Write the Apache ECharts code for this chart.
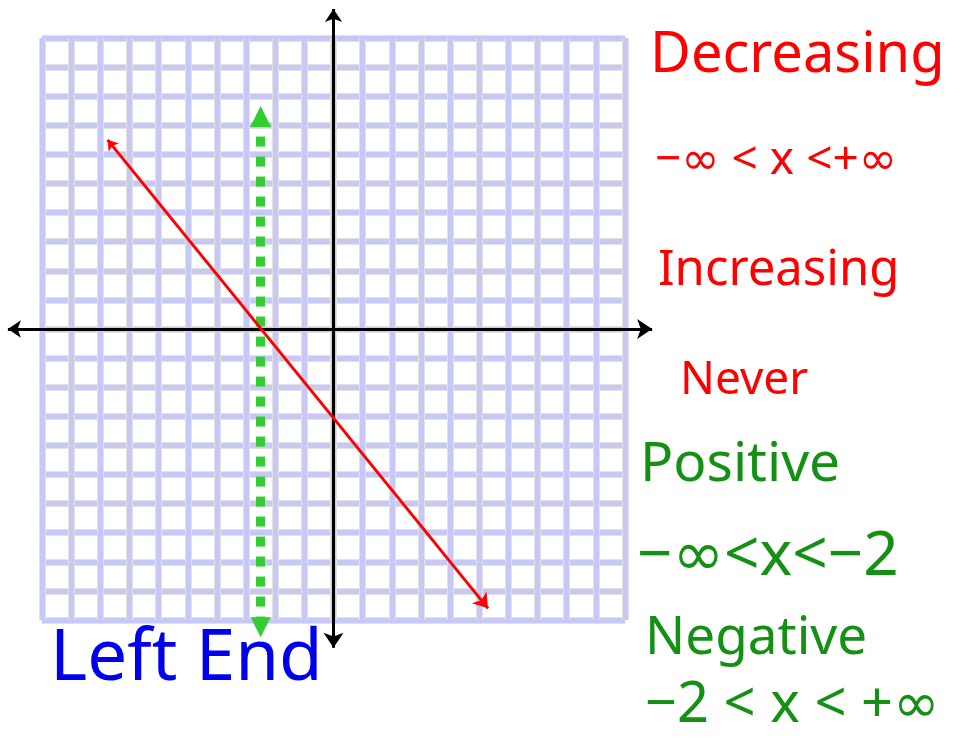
<!DOCTYPE html>
<html>
<head>
<meta charset="utf-8">
<script src="https://cdn.jsdelivr.net/npm/echarts@6/dist/echarts.min.js"></script>
<style>
  html,body{margin:0;padding:0;background:#fff;}
  #chart{width:954px;height:742px;}
</style>
</head>
<body>
<div id="chart"></div>
<script>
// grid range in squares
var gridMin = -10
var gridMax = 10

// lines drawn on the grid, [x, y] pairs
var xAxisLine = [[-11.17, 0], [10.93, 0]]
var yAxisLine = [[0, 11.0], [0, -10.95]]
var redLine = [[-7.75, 6.5], [5.3, -9.6]]
var greenLine = [[-2.5, 7.3], [-2.5, -10.25]]

// handwritten notes
var redNotes = ['Decreasing', '−∞ < x <+∞', 'Increasing', 'Never']
var greenNotes = ['Positive', '−∞<x<−2', 'Negative', '−2 < x < +∞']
var blueNote = 'Left End'

var chartsDom = document.getElementById('chart')
var myChart = echarts.init(chartsDom)

function lineSeries(pts, color, width, symbol, symbolSize, type) {
  return {
    type: 'lines',
    coordinateSystem: 'cartesian2d',
    clip: false,
    silent: true,
    symbol: [symbol, symbol],
    symbolSize: symbolSize,
    lineStyle: { color: color, width: width, type: type || 'solid', opacity: 1, curveness: 0 },
    data: [{ coords: pts }]
  }
}

var hand = "'Noto Sans', 'DejaVu Sans', sans-serif"

function note(text, left, top, size, color) {
  return {
    type: 'text',
    left: left,
    top: top,
    z: 100,
    silent: true,
    style: { text: text, fill: color, font: size + 'px ' + hand }
  }
}

var axisBase = function (color, width) {
  return {
    type: 'value',
    min: gridMin,
    max: gridMax,
    interval: 1,
    axisLine: { show: false },
    axisTick: { show: false },
    axisLabel: { show: false },
    splitLine: { show: true, lineStyle: { color: color, width: width } }
  }
}

var option = {
  animation: false,
  backgroundColor: '#fff',
  grid: { left: 42, top: 38, width: 583, height: 582 },
  xAxis: [axisBase('#e2e2e2', 7), axisBase('#c8c8f4', 5)],
  yAxis: [axisBase('#e2e2e2', 7), axisBase('#c8c8f4', 5)],
  series: [
    lineSeries(xAxisLine, '#000', 3, 'arrow', [13, 15]),
    lineSeries(yAxisLine, '#000', 3, 'arrow', [13, 15]),
    lineSeries(greenLine, '#33cc33', 9, 'triangle', [21, 20], [10, 10]),
    lineSeries(redLine, '#ff0000', 3, 'arrow', [10, 14])
  ],
  graphic: [
    note(redNotes[0], 650, 28, 56, '#ff0000'),
    note(redNotes[1], 655, 138, 46, '#ff0000'),
    note(redNotes[2], 658, 247, 49, '#ff0000'),
    note(redNotes[3], 680, 358, 46, '#ff0000'),
    note(greenNotes[0], 640, 438, 55, '#149114'),
    note(greenNotes[1], 637, 526, 62, '#149114'),
    note(greenNotes[2], 645, 612, 53, '#149114'),
    note(greenNotes[3], 645, 678, 56, '#149114'),
    note(blueNote, 50, 624, 71, '#0000ee')
  ]
}

myChart.setOption(option)
</script>
</body>
</html>
